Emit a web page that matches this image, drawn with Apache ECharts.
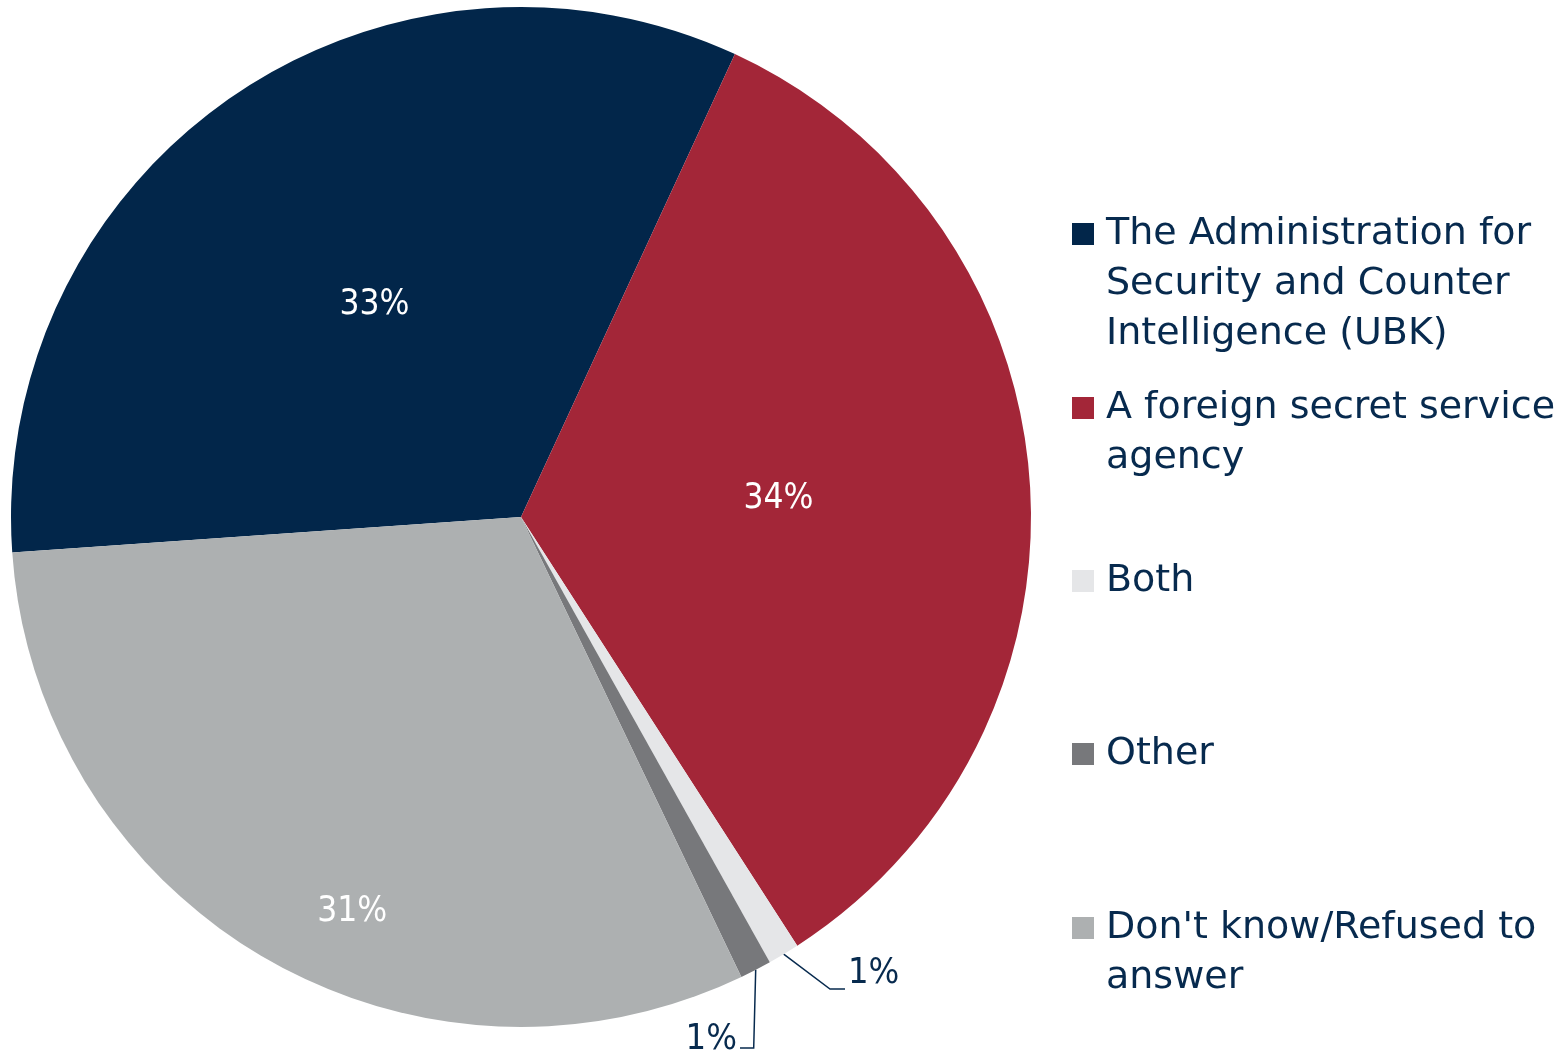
<!DOCTYPE html>
<html>
<head>
<meta charset="utf-8">
<script src="https://cdn.jsdelivr.net/npm/echarts@6/dist/echarts.min.js"></script>
<style>html,body{margin:0;padding:0;background:#fff}#c{width:1568px;height:1059px}</style>
</head>
<body>
<div id="c"></div>
<script>
const categories = ["The Administration for Security and Counter Intelligence (UBK)", "A foreign secret service agency", "Both", "Other", "Don't know/Refused to answer"];
const legendLines = [["The Administration for", "Security and Counter", "Intelligence (UBK)"], ["A foreign secret service", "agency"], ["Both"], ["Other"], ["Don't know/Refused to", "answer"]];
const values = [33, 34, 1, 1, 31];
const colors = ["#02264a", "#a32638", "#e5e6e8", "#77787b", "#adb0b1"];

const FONT = "DejaVu Sans Condensed";
const LEGEND_FONT = "DejaVu Sans";
const TEXT = "#072a4e";
const legendTops = [209, 383, 556, 729, 903];

const legends = categories.map((name, i) => ({
  orient: 'vertical',
  left: 1067,
  top: legendTops[i],
  data: [name],
  selectedMode: false,
  itemWidth: 0,
  itemHeight: 0,
  icon: 'rect',
  padding: 0,
  formatter: () => legendLines[i].map((l, k) => (k === 0 ? '{sq|}{sp|}' : '{ind|}') + l).join('\n'),
  textStyle: {
    fontFamily: LEGEND_FONT, fontSize: 38, color: TEXT, lineHeight: 50,
    rich: {
      sq: { width: 22, height: 22, backgroundColor: colors[i], verticalAlign: 'middle' },
      sp: { width: 12 },
      ind: { width: 34 }
    }
  }
}));

// outside label anchors for the two small slices (label centre), leader drawn below the label
const smallLabels = {
  2: { x: 848, y: 974, align: 'left', lineDy: 15 },
  3: { x: 737, y: 1040, align: 'right', lineDy: 8 }
};

const option = {
  animation: false,
  color: colors,
  legend: legends,
  series: [{
    type: 'pie',
    center: [521, 517],
    radius: 510,
    startAngle: 184,
    clockwise: true,
    avoidLabelOverlap: false,
    itemStyle: { borderWidth: 0 },
    label: {
      position: 'inside',
      formatter: '{c}%',
      fontFamily: FONT, fontSize: 35, color: '#fff'
    },
    labelLine: { show: true, lineStyle: { color: TEXT, width: 1.5 }, smooth: false },
    data: categories.map((n, i) => {
      const d = { name: n, value: values[i] };
      if (smallLabels[i]) {
        d.label = { position: 'outside', color: TEXT, fontSize: 36 };
        d.labelLine = { show: true, length: 30, length2: 15 };
      }
      return d;
    }),
    labelLayout: function (p) {
      if (p.dataIndex === 4) return { dx: -39, dy: 172 };
      const s = smallLabels[p.dataIndex];
      if (s) {
        const start = p.labelLinePoints ? p.labelLinePoints[0] : null;
        const lineY = s.y + s.lineDy;
        let pts;
        if (start) {
          if (s.align === 'left') {
            pts = [start, [s.x - 18, lineY], [s.x - 3, lineY]];
          } else {
            pts = [start, [start[0] - 2, lineY], [s.x + 3, lineY]];
          }
        }
        const res = { x: s.x, y: s.y, align: s.align, verticalAlign: 'middle' };
        if (pts) res.labelLinePoints = pts;
        return res;
      }
      return {};
    }
  }]
};
const chart = echarts.init(document.getElementById('c'));
chart.setOption(option);
</script>
</body>
</html>
